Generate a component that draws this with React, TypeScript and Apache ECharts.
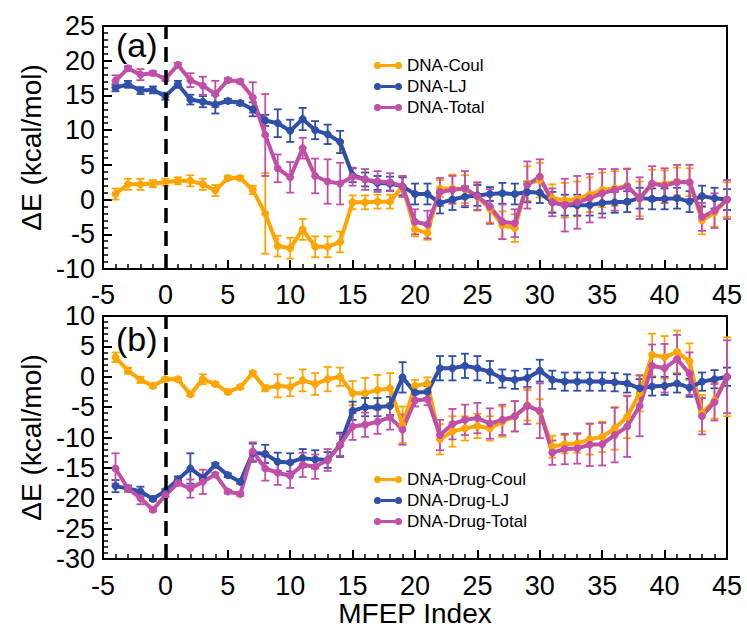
import React, { useEffect, useRef } from "react";
import * as echarts from "echarts";

// MFEP window indices
const mfepIndex = [
  -4, -3, -2, -1, 0, 1, 2, 3, 4, 5, 6, 7, 8, 9, 10, 11, 12, 13, 14, 15, 16, 17, 18, 19, 20,
  21, 22, 23, 24, 25, 26, 27, 28, 29, 30, 31, 32, 33, 34, 35, 36, 37, 38, 39, 40, 41, 42, 43, 44, 45,
];

// (a) DNA interaction energies (kcal/mol)
const dnaCoul = [
  0.8, 2.2, 2.2, 2.3, 2.5, 2.7, 2.7, 2.2, 1.3, 3.1, 3.1, 1.4,
  -2.0, -6.7, -7.0, -4.3, -6.8, -6.8, -6.1,
  -0.4, -0.4, -0.3, -0.3, 1.9, -4.3, -4.8,
  1.6, 1.6, 1.5, 0.4, -1.3, -3.7, -4.1, 2.3,
  2.8, 0.2, -0.1, 0.1, 0.7, 1.4, 1.6, 2.0,
  0.1, 2.3, 2.2, 2.6, 2.5, -3.0, -1.9, 0,
];
const dnaCoulErr = [
  0.8, 0.8, 0.8, 0.5, 0.5, 0.5, 0.8, 0.8, 0.8, 0.3, 0.3, 0.6,
  5.8, 1.5, 1.5, 1.5, 1.5, 1.5, 1.5,
  1.0, 1.0, 1.0, 1.0, 1.5, 1.0, 1.0,
  1.2, 2.0, 2.0, 2.0, 2.0, 2.0, 2.0, 2.5,
  2.5, 2.0, 2.5, 2.5, 2.5, 2.5, 2.5, 2.5,
  2.5, 2.0, 2.0, 2.0, 2.0, 2.0, 2.0, 2.5,
];
const dnaLJ = [
  16.1, 16.6, 15.7, 15.8, 14.9, 16.6, 14.4, 14.1, 13.7, 14.2, 13.9, 13.0,
  11.4, 11.0, 9.9, 11.6, 10.0, 9.4, 8.3,
  3.5, 2.9, 2.4, 2.3, 1.9, 0.8, 0.8,
  -0.5, 0.0, 0.4, 0.6, 0.8, 0.9, 0.8, 1.1,
  1.0, -0.4, -0.8, -0.8, -0.8, -0.5, -0.4, -0.3,
  0.2, 0.1, 0.1, 0.2, -0.3, 0.5, 0.2, 0,
];
const dnaLJErr = [
  0.5, 0.5, 0.5, 0.5, 0.5, 0.5, 0.7, 0.8, 1.3, 0.3, 0.3, 1.0,
  0.8, 2.0, 1.6, 1.6, 1.3, 1.4, 1.6,
  1.0, 1.0, 1.0, 1.0, 1.3, 1.5, 1.5,
  1.5, 1.5, 1.5, 1.5, 1.0, 1.5, 1.5, 1.5,
  1.5, 1.5, 1.5, 1.5, 1.5, 1.5, 1.5, 1.5,
  1.5, 1.5, 1.5, 1.5, 1.5, 1.5, 1.5, 1.5,
];
const dnaTotal = [
  17.1, 18.9, 18.0, 18.2, 17.4, 19.4, 17.2, 16.4, 15.2, 17.2, 17.0, 14.7,
  9.3, 4.5, 3.2, 7.4, 3.4, 2.6, 2.3,
  3.3, 2.9, 2.6, 2.5, 1.9, -3.2, -3.6,
  1.1, 1.4, 1.6, 0.5, -1.0, -3.2, -3.4, 2.1,
  3.3, -0.4, -0.8, -0.4, 0.2, 0.9, 1.4, 1.9,
  0.2, 2.3, 2.0, 2.5, 2.5, -2.5, -1.6, 0,
];
const dnaTotalErr = [
  0.8, 0.3, 0.8, 0.3, 0.3, 0.3, 1.0, 1.3, 1.9, 0.3, 0.3, 2.2,
  5.9, 2.0, 2.2, 1.5, 2.5, 3.2, 3.0,
  1.3, 1.5, 1.5, 1.3, 1.5, 1.8, 2.0,
  2.0, 2.0, 2.5, 2.0, 2.5, 2.5, 2.0, 3.4,
  2.5, 2.0, 3.8, 3.8, 3.5, 3.5, 3.0, 2.5,
  3.0, 2.5, 2.5, 2.5, 2.5, 2.0, 2.5, 2.8,
];

// (b) DNA-drug interaction energies (kcal/mol)
const drugCoul = [
  3.2, 1.0, -0.5, -1.5, -0.4, -0.4, -2.9, -0.4, -1.2, -2.5, -1.7, 0.6,
  -1.9, -1.5, -1.7, -0.6, -1.2, -0.4, 0.0,
  -2.7, -2.7, -2.2, -1.9, -7.9, -1.5, -1.1,
  -10.3, -9.0, -8.5, -8.1, -8.5, -7.4, -6.5, -4.7,
  -5.7, -11.5, -11.1, -11.0, -10.3, -9.9, -8.5, -6.6,
  -2.7, 3.6, 3.2, 4.1, 2.5, -6.0, -3.9, 0,
];
const drugCoulErr = [
  0.8, 0.5, 0.5, 0.3, 0.3, 0.3, 0.3, 0.8, 0.3, 0.3, 0.3, 0.3,
  0.5, 1.9, 1.5, 1.8, 1.8, 2.0, 1.5,
  2.0, 2.5, 2.5, 2.5, 3.0, 1.0, 1.0,
  2.5, 2.5, 2.0, 2.0, 2.0, 2.5, 2.5, 2.5,
  2.0, 1.8, 1.5, 1.5, 2.5, 2.5, 3.5, 3.5,
  3.0, 3.5, 3.5, 3.5, 3.0, 3.0, 3.0, 6.5,
];
const drugLJ = [
  -18.0, -18.4, -18.9, -20.1, -18.8, -16.9, -15.1, -16.6, -14.5, -16.2, -17.3, -12.5,
  -12.7, -14.0, -14.1, -13.4, -13.6, -13.7, -11.2,
  -5.6, -5.0, -5.0, -4.8, -0.1, -2.6, -2.5,
  1.4, 1.4, 1.8, 1.4, 0.8, -0.3, -0.5, -0.2,
  1.0, -0.5, -0.8, -0.8, -0.8, -0.8, -0.9, -1.1,
  -1.9, -1.6, -1.5, -1.1, -1.8, -0.8, -0.4, 0,
];
const drugLJErr = [
  1.0, 0.5, 0.8, 0.3, 0.3, 0.5, 2.5, 0.3, 0.3, 0.3, 0.3, 1.5,
  1.5, 1.5, 1.5, 1.5, 1.5, 1.3, 2.0,
  1.5, 1.5, 1.5, 1.5, 2.5, 1.0, 1.0,
  2.0, 2.0, 2.0, 2.0, 1.8, 1.5, 1.5, 1.5,
  1.8, 1.5, 1.5, 1.5, 1.5, 1.5, 1.5, 1.5,
  1.5, 1.5, 1.5, 1.5, 1.5, 1.5, 1.5, 1.5,
];
const drugTotal = [
  -15.1, -18.4, -20.0, -21.9, -19.5, -17.5, -18.4, -17.3, -16.1, -18.9, -19.3, -12.3,
  -15.1, -15.8, -16.3, -14.5, -14.8, -13.7, -11.2,
  -8.2, -7.9, -7.4, -6.7, -8.7, -3.9, -3.7,
  -9.6, -7.8, -7.1, -6.8, -7.7, -7.1, -6.5, -4.8,
  -5.6, -12.5, -11.9, -11.8, -11.2, -11.1, -9.6, -8.2,
  -4.8, 1.8, 1.4, 2.9, 0.5, -6.5, -4.2, 0,
];
const drugTotalErr = [
  2.5, 0.5, 1.0, 0.3, 0.3, 0.3, 1.5, 2.0, 0.3, 0.3, 0.3, 1.5,
  2.0, 2.0, 2.0, 2.0, 2.0, 1.8, 1.8,
  2.2, 2.0, 2.0, 2.0, 2.5, 1.0, 1.0,
  2.5, 2.5, 2.5, 2.5, 2.5, 2.5, 2.5, 3.0,
  4.5, 2.0, 2.5, 2.5, 3.5, 3.5, 4.5, 5.0,
  5.0, 3.5, 4.0, 4.0, 3.5, 3.0, 3.0, 6.0,
];

const xTicks = { min: -5, max: 45, interval: 5 };
const yTicksA = { min: -10, max: 25, interval: 5 };
const yTicksB = { min: -30, max: 10, interval: 5 };

const ORANGE = "#FFA500";
const BLUE = "#2F4FA8";
const MAGENTA = "#C14FA8";
const FONT = "Liberation Sans";
// legend key: a thick stroke with a dot at each end
const LEGEND_ICON =
  "path://M0,4a4,4 0 1,1 8,0a4,4 0 1,1 -8,0zM24,4a4,4 0 1,1 8,0a4,4 0 1,1 -8,0zM8,2.2L24,2.2L24,5.8L8,5.8z";

function pairs(values: number[]) {
  return mfepIndex.map((x, i) => [x, values[i]]);
}

function errorData(values: number[], errs: number[]) {
  return mfepIndex.map((x, i) => [x, values[i] - errs[i], values[i] + errs[i]]);
}

function errorSeries(values: number[], errs: number[], color: string, axis: number) {
  return {
    type: "custom",
    xAxisIndex: axis,
    yAxisIndex: axis,
    silent: true,
    data: errorData(values, errs),
    encode: { x: 0, y: [1, 2] },
    renderItem: (_params: any, api: any) => {
      const x = api.value(0);
      const top = api.coord([x, api.value(2)]);
      const bot = api.coord([x, api.value(1)]);
      const cap = 4;
      const style = { stroke: color, lineWidth: 1.8 };
      return {
        type: "group",
        children: [
          { type: "line", shape: { x1: top[0], y1: top[1], x2: bot[0], y2: bot[1] }, style },
          { type: "line", shape: { x1: top[0] - cap, y1: top[1], x2: top[0] + cap, y2: top[1] }, style },
          { type: "line", shape: { x1: bot[0] - cap, y1: bot[1], x2: bot[0] + cap, y2: bot[1] }, style },
        ],
      };
    },
  };
}

function lineSeries(name: string, values: number[], color: string, axis: number, extra: any = {}) {
  return {
    type: "line",
    name,
    xAxisIndex: axis,
    yAxisIndex: axis,
    data: pairs(values),
    symbol: "circle",
    symbolSize: 7,
    lineStyle: { color, width: 4 },
    itemStyle: { color, borderColor: color },
    ...extra,
  };
}

const zeroLine = {
  markLine: {
    silent: true,
    symbol: "none",
    label: { show: false },
    lineStyle: { color: "#000", width: 3.5, type: [15, 8] },
    data: [{ xAxis: 0 }],
  },
};

function xAxis(gridIndex: number, labelMargin: number, name?: string) {
  return {
    type: "value",
    gridIndex,
    ...xTicks,
    name: name || "",
    nameLocation: "middle",
    nameGap: 40,
    nameTextStyle: { color: "#000", fontSize: 28, fontFamily: FONT },
    axisLine: { show: true, onZero: false, lineStyle: { color: "#000", width: 2 } },
    axisTick: { inside: true, length: 9, lineStyle: { color: "#000", width: 2 } },
    minorTick: { show: true, splitNumber: 5, length: 5, lineStyle: { color: "#000", width: 1.5 } },
    splitLine: { show: false },
    axisLabel: { color: "#000", fontSize: 27, fontFamily: FONT, margin: labelMargin },
  };
}

function yAxis(gridIndex: number, ticks: { min: number; max: number; interval: number }) {
  return {
    type: "value",
    gridIndex,
    ...ticks,
    name: "ΔE (kcal/mol)",
    nameLocation: "middle",
    nameGap: 58,
    nameTextStyle: { color: "#000", fontSize: 28, fontFamily: FONT },
    axisLine: { show: true, onZero: false, lineStyle: { color: "#000", width: 2 } },
    axisTick: { inside: true, length: 9, lineStyle: { color: "#000", width: 2 } },
    minorTick: { show: true, splitNumber: 5, length: 5, lineStyle: { color: "#000", width: 1.5 } },
    splitLine: { show: false },
    axisLabel: { color: "#000", fontSize: 27, fontFamily: FONT, margin: 8 },
  };
}

function legend(names: string[], top: number) {
  return {
    orient: "vertical",
    left: 369,
    top,
    itemWidth: 28,
    itemHeight: 8,
    itemGap: 4,
    icon: LEGEND_ICON,
    data: names,
    textStyle: { color: "#000", fontSize: 17, fontFamily: FONT },
  };
}

export default function App() {
  const ref = useRef<HTMLDivElement>(null);

  useEffect(() => {
    if (!ref.current) return;
    const chart = echarts.init(ref.current, undefined, { renderer: "svg" });
    chart.setOption({
      animation: false,
      backgroundColor: "#fff",
      grid: [
        { left: 103, top: 26, width: 624, height: 243, show: true, borderColor: "#000", borderWidth: 2 },
        { left: 103, top: 316, width: 624, height: 243, show: true, borderColor: "#000", borderWidth: 2 },
      ],
      xAxis: [xAxis(0, 12), xAxis(1, 13, "MFEP Index")],
      yAxis: [yAxis(0, yTicksA), yAxis(1, yTicksB)],
      legend: [
        legend(["DNA-Coul", "DNA-LJ", "DNA-Total"], 52),
        legend(["DNA-Drug-Coul", "DNA-Drug-LJ", "DNA-Drug-Total"], 466),
      ],
      graphic: [
        { type: "text", left: 116, top: 28, style: { text: "(a)", fontSize: 34, fontFamily: FONT, fill: "#000" } },
        { type: "text", left: 116, top: 322, style: { text: "(b)", fontSize: 34, fontFamily: FONT, fill: "#000" } },
      ],
      series: [
        errorSeries(dnaCoul, dnaCoulErr, ORANGE, 0),
        lineSeries("DNA-Coul", dnaCoul, ORANGE, 0, zeroLine),
        errorSeries(dnaLJ, dnaLJErr, BLUE, 0),
        lineSeries("DNA-LJ", dnaLJ, BLUE, 0),
        errorSeries(dnaTotal, dnaTotalErr, MAGENTA, 0),
        lineSeries("DNA-Total", dnaTotal, MAGENTA, 0),

        errorSeries(drugCoul, drugCoulErr, ORANGE, 1),
        lineSeries("DNA-Drug-Coul", drugCoul, ORANGE, 1, zeroLine),
        errorSeries(drugLJ, drugLJErr, BLUE, 1),
        lineSeries("DNA-Drug-LJ", drugLJ, BLUE, 1),
        errorSeries(drugTotal, drugTotalErr, MAGENTA, 1),
        lineSeries("DNA-Drug-Total", drugTotal, MAGENTA, 1),
      ],
    });
    return () => chart.dispose();
  }, []);

  return (
    <div
      ref={ref}
      style={{ position: "fixed", left: 0, top: 0, width: 747, height: 631, background: "#fff" }}
    />
  );
}
